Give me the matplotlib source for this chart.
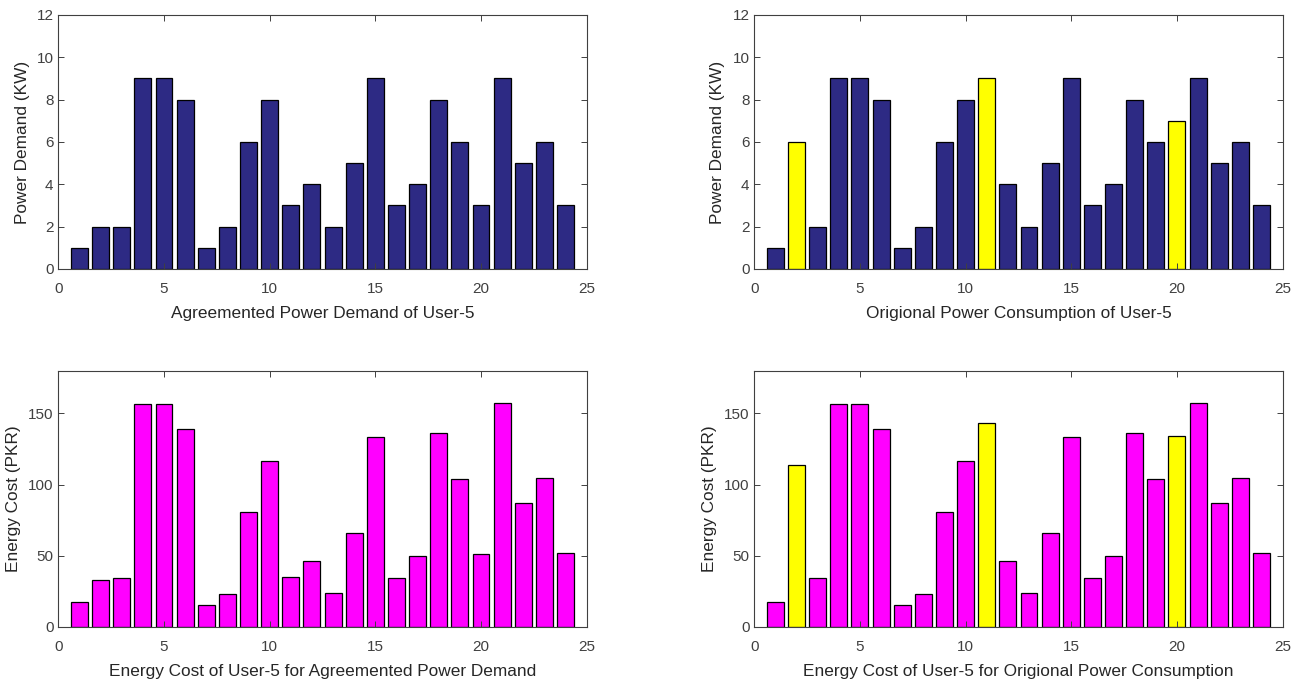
import numpy as np
import matplotlib
matplotlib.use("Agg")
from matplotlib import pyplot as plt

plt.rcParams['font.family'] = ['Liberation Sans', 'DejaVu Sans']

# hours of the day
hours = np.arange(1, 25)

# agreed power demand (KW)
agreed_kw = [1, 2, 2, 9, 9, 8, 1, 2, 6, 8, 3, 4, 2, 5, 9, 3, 4, 8, 6, 3, 9, 5, 6, 3]
# original consumption (KW), differs at hours 2, 11, 20
original_kw = [1, 6, 2, 9, 9, 8, 1, 2, 6, 8, 9, 4, 2, 5, 9, 3, 4, 8, 6, 7, 9, 5, 6, 3]

# energy cost (PKR)
agreed_cost = [17.1, 33.2, 34.1, 156.8, 156.8, 138.8, 15.4, 22.7, 80.4, 116.8, 34.8, 46.3,
               23.6, 65.9, 133.2, 34.1, 49.5, 136.4, 104.0, 51.2, 157.5, 86.9, 104.9, 51.9]
original_cost = [17.1, 113.6, 34.1, 156.8, 156.8, 138.8, 15.4, 22.7, 80.4, 116.8, 143.0, 46.3,
                 23.6, 65.9, 133.2, 34.1, 49.5, 136.4, 104.0, 133.9, 157.5, 86.9, 104.9, 51.9]

changed = [2, 11, 20]

navy = '#2D2A84'
magenta = '#FF00FF'
yellow = '#FFFF00'
grey = '#404040'

fig = plt.figure(figsize=(13.02, 6.81), dpi=100)
ax1 = fig.add_axes([0.0448, 0.605, 0.4058, 0.373])
ax2 = fig.add_axes([0.5793, 0.605, 0.4058, 0.373])
ax3 = fig.add_axes([0.0448, 0.0797, 0.4058, 0.3759])
ax4 = fig.add_axes([0.5793, 0.0797, 0.4058, 0.3759])


def colors_for(base):
    return [yellow if h in changed else base for h in hours]


ax1.bar(hours, agreed_kw, width=0.8, color=navy, edgecolor='black', linewidth=0.9)
ax2.bar(hours, original_kw, width=0.8, color=colors_for(navy), edgecolor='black', linewidth=0.9)
ax3.bar(hours, agreed_cost, width=0.8, color=magenta, edgecolor='black', linewidth=0.9)
ax4.bar(hours, original_cost, width=0.8, color=colors_for(magenta), edgecolor='black', linewidth=0.9)

lab = dict(fontsize=12.4, color='#262626')

for ax in (ax1, ax2):
    ax.set_ylim(0, 12)
    ax.set_yticks(range(0, 13, 2))
    ax.set_ylabel('Power Demand (KW)', labelpad=5, **lab)
for ax in (ax3, ax4):
    ax.set_ylim(0, 180)
    ax.set_yticks([0, 50, 100, 150])
    ax.set_ylabel('Energy Cost (PKR)', labelpad=5, **lab)

ax1.set_xlabel('Agreemented Power Demand of User-5', labelpad=7, **lab)
ax2.set_xlabel('Origional Power Consumption of User-5', labelpad=7, **lab)
ax3.set_xlabel('Energy Cost of User-5 for Agreemented Power Demand', labelpad=7, **lab)
ax4.set_xlabel('Energy Cost of User-5 for Origional Power Consumption', labelpad=7, **lab)

for ax in (ax1, ax2, ax3, ax4):
    ax.set_xlim(0, 25)
    ax.set_xticks(range(0, 26, 5))
    ax.tick_params(direction='in', top=True, right=True, length=4, width=0.7,
                   colors=grey, labelsize=11)
    ax.tick_params(axis='x', pad=9.5)
    for s in ax.spines.values():
        s.set_color(grey)
        s.set_linewidth(0.8)

fig.savefig('out.png', dpi=100, facecolor='white')
